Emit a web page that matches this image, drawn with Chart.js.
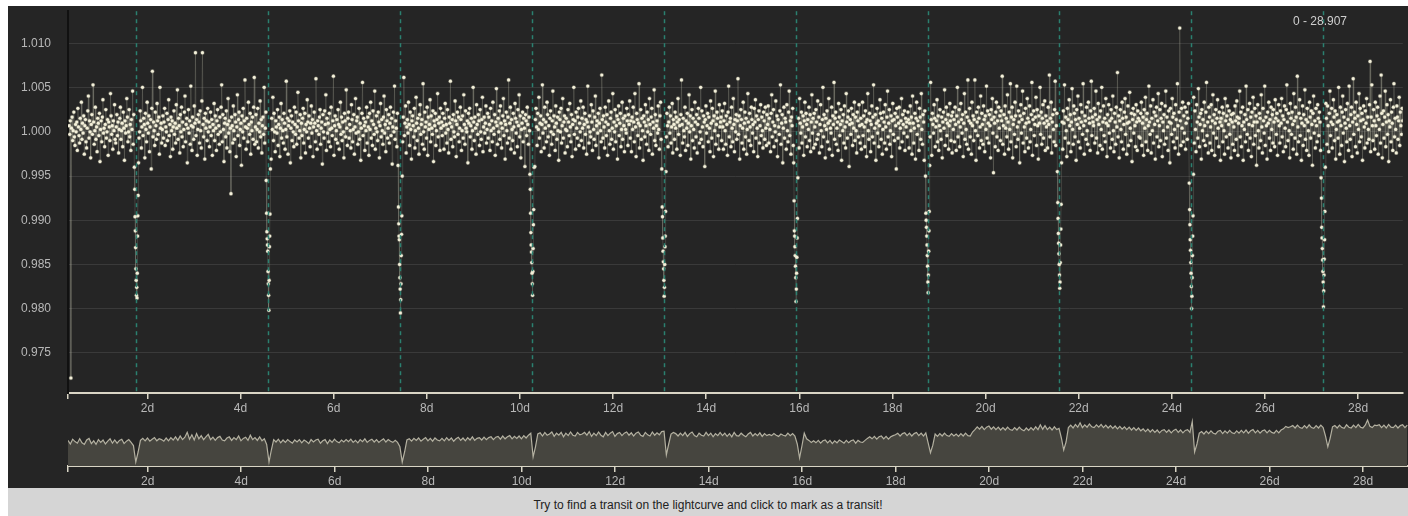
<!DOCTYPE html>
<html>
<head>
<meta charset="utf-8">
<script src="https://cdn.jsdelivr.net/npm/chart.js@4.4.1/dist/chart.umd.min.js"></script>
<style>
  html, body { margin: 0; padding: 0; background: #fff; width: 1408px; height: 516px; overflow: hidden;
    font-family: "Liberation Sans", Helvetica, Arial, sans-serif; }
  #panel { position: absolute; left: 8px; top: 6px; width: 1400px; height: 482px; background: #252525; }
  #main { position: absolute; left: 8px; top: 6px; }
  #overview { position: absolute; left: 8px; top: 400px; }
  #range { position: absolute; left: 1293px; top: 14px; color: #cfcfcf; font-size: 12px; }
  #hint { position: absolute; left: 8px; top: 488px; width: 1400px; height: 28px; background: #d5d5d5;
    color: #222; font-size: 12px; text-align: center; line-height: 34px; }
</style>
</head>
<body>
<div id="panel"></div>
<canvas id="main" width="1400" height="414"></canvas>
<canvas id="overview" width="1400" height="88"></canvas>
<div id="range"></div>
<div id="hint">Try to find a transit on the lightcurve and click to mark as a transit!</div>
<script>
// time range shown (days)
const xStart = 0.295;
const xEnd = 28.96;
const rangeLabel = "0 - 28.907";
const xTicks = [2, 4, 6, 8, 10, 12, 14, 16, 18, 20, 22, 24, 26, 28];
const yTicks = [0.975, 0.980, 0.985, 0.990, 0.995, 1.000, 1.005, 1.010];

// main lightcurve, flux offsets in units of 1.4e-4, one row per day (80 samples)
const startDay = 0.32;
const cadence = 0.0125;
const baselineUnit = 1.4e-4;
const baselineFlux = [
  5, -2, 9, -199, 3, 12, -7, 1, 16, -4, -11, 6, 0, 8, -15, 19, 4, -3, -9, 11, 2, 24, -6, 7, -1, 13, -18, 5, 10, -8, -13, 3, 17, 29, -5, 9, 0, -21, 6, 14, -2, 38, 8, -10, 1, 20, -6, 4, -16, 11, 7, -3, 15, -24, 2, 9, -8, 12, 26, -1, 3, -12, 6, 18, -5, 0, 10, -19, 8, 4, -7, 31, 13, -2, 5, -14, 9, 1, 22, -6,
  -9, 4, 14, -3, 8, -17, 2, 11, 20, -6, 1, 7, -12, 16, 3, -23, 9, -1, 5, 27, 12, -8, 0, 18, -4, 6, -15, 10, 2, 33, -10, 14, 5, -2, 21, -7, 8, -19, 3, 12, -5, 0, 17, 9, -13, 4, 36, -3, 11, 6, -21, 15, 2, -8, 24, 7, -1, 13, -16, 4, 10, -30, 19, 49, -4, 8, 1, -11, 16, 5, -6, 23, 9, -2, 12, -18, 36, 3, 7, -9,
  2, 13, -5, 8, 19, -11, 4, 0, 15, -7, 10, 26, -3, 6, -20, 12, 1, 9, -14, 4, 17, -2, 7, -9, 22, 3, 34, -6, 11, 5, -17, 14, 0, 20, -4, 8, -12, 2, 16, 29, -8, 6, 11, -25, 3, 18, -1, 9, -10, 37, 5, -15, 12, 4, -6, 21, 7, 64, -3, 10, -19, 2, 14, 8, -9, 17, 1, -13, 25, 64, 6, -4, 11, -22, 15, 3, 9, -7, 19, 0,
  8, -12, 4, 16, -3, 10, -19, 6, 1, 23, -7, 13, 3, -15, 9, 18, -2, 5, -10, 12, 0, 20, 38, -8, 14, 2, -24, 7, 11, -4, 17, -13, 6, 27, -1, 9, -16, 3, -50, 12, 5, -9, 21, 1, -6, 14, 8, -20, 4, 30, -3, 10, 16, -11, 2, 7, -27, 13, 0, 19, -5, 9, 42, 4, -14, 11, 3, -8, 24, 6, -2, 15, -18, 8, 1, 12, -6, 20, 44, -10,
  4, 14, -8, 2, 19, -13, 7, 0, 25, -4, 10, -17, 5, 12, -2, 36, -9, 3, 16, -6, 21, 1, -12, 8, 13, -3, 6, -22, 11, 2, 28, -7, 15, 0, -16, 9, 4, -1, 18, -11, 6, 12, -20, 3, 23, -5, 10, 1, -9, 15, 7, -14, 2, 41, -4, 11, -18, 5, 9, 17, -25, 3, 13, -7, 8, 0, -12, 20, 6, -2, 16, -10, 4, 32, 9, -5, 1, 14, -21, 7,
  -3, 11, 19, -9, 2, 15, -17, 6, 0, 26, 8, -5, 13, 3, -12, 7, 21, -1, 10, -20, 4, 16, 7, -8, 43, 1, -14, 9, 5, -2, 12, 18, -10, 3, 8, -26, 14, 0, -5, 17, 6, 30, -15, 11, -1, 7, -8, 15, 2, -12, 20, 3, -3, 9, 45, -19, 5, 13, -6, 1, 10, -9, 18, 6, -14, 4, 24, -2, 12, -7, 8, 0, -21, 15, 9, -4, 34, 3, -11, 11,
  16, -5, 6, 1, -13, 22, 10, -8, 2, 14, -18, 4, 27, -1, 9, 12, -10, 0, 19, -6, 7, -23, 3, 15, 40, -3, 11, 5, -15, 8, 1, 20, -9, 12, 4, -19, 15, 2, 24, -5, 9, -11, 17, 6, -2, 33, -14, 3, 13, 0, -7, 16, 8, -21, 5, 23, -4, 10, 1, -10, 12, 29, -1, 6, -16, 18, 9, -5, 3, 14, -9, 7, 20, -3, 11, -26, 4, 16, 0, 37,
  -6, 9, 3, -12, 15, 1, -5, 12, -15, 8, 0, 18, 6, -8, 12, 44, -3, 7, 21, -17, 4, 10, -1, 24, 6, -11, 16, 2, -22, 9, 13, 5, -4, 19, -13, 1, 28, 7, -7, 11, 3, -18, 14, 22, -2, 6, 10, -10, 39, 0, -14, 16, 4, 8, -5, 20, -19, 12, 2, 6, 26, -8, 13, 3, -2, 17, -24, 9, 5, 15, -11, 1, 10, 31, -4, 7, 12, -15, 19, 3,
  8, -3, 15, 5, -14, 11, 23, -1, 6, -9, 18, 2, -17, 12, 7, 41, -6, 4, 10, -12, 14, 0, -4, 25, 9, -20, 6, 16, -2, 12, -8, 3, 20, 10, -15, 1, 13, -5, 30, 6, -10, 17, 3, 0, 9, -25, 15, 7, 19, -4, 5, 11, -14, 1, 36, 8, -7, 12, 3, -18, 22, 6, -2, 14, 9, -11, 18, 0, -6, 10, 28, -16, 4, 12, -1, 7, 21, -9, 2, 15,
  -5, 12, 6, -15, 19, 1, 9, -8, 24, 3, -2, 14, -19, 8, 35, 5, -10, 11, 0, 17, -6, 21, 7, -13, 3, 13, 27, -3, 9, -22, 6, 16, 1, -9, 12, 42, -5, 7, 20, -14, 10, 2, -7, 15, 4, -17, 23, 11, -1, 8, -12, 18, 5, 30, -4, 13, -21, 2, 7, 16, -8, 11, 3, -28, 14, 9, -3, 20, 6, -10, 12, 1, 22, -6, 8, -32, 14, 3, -8, 17,
  -28, 10, 19, 4, -11, 15, 2, 28, -5, 7, 13, -16, 6, 38, -1, 10, -13, 20, 3, 8, -8, 24, 14, -4, 5, -19, 11, 17, 0, -10, 9, 33, -2, 13, 4, -15, 21, 7, -6, 12, 1, -23, 16, 10, 0, 19, -9, 5, 27, -5, 8, 13, -17, 2, 11, 1, -12, 18, 8, -3, 23, 4, -8, 14, -20, 6, 10, 36, -2, 9, -14, 16, 3, -5, 12, 19, -11, 7, 0, 25,
  -7, 11, 3, 20, -13, 6, 15, -2, 10, -18, 8, 37, 4, -9, 13, 0, -4, 22, 8, -15, 17, 2, -6, 12, 29, -11, 5, 9, -1, 15, -21, 7, 19, 1, -8, 46, 10, -5, 13, 4, -13, 20, 8, -3, 14, -19, 6, 25, 1, -10, 11, 16, -6, 3, 31, -14, 8, 0, 18, -8, 5, 13, -22, 10, 21, -3, 7, 15, -12, 2, 24, -6, 11, 5, -16, 13, 2, -1, 19, 9,
  -11, 14, 6, 25, -5, 9, -16, 12, 2, 20, 8, -8, 31, 4, -20, 15, 10, -3, 7, 39, -13, 5, 18, -6, 11, 1, -23, 13, 8, -4, 22, 5, -10, 16, 0, 10, -15, 27, 6, -2, 12, 19, -18, 8, 3, 34, -7, 14, -11, 5, 9, -1, 21, 2, -14, 13, 24, -6, 11, -8, 17, 1, 11, -20, 38, 7, -4, 15, 5, -12, 8, 20, -1, 13, -9, 4, 23, -17, 10, 6,
  -6, 16, 3, 12, -14, 8, 27, -2, 10, 5, -19, 14, 42, 6, -9, 11, 1, -4, 20, -15, 9, 3, 15, -11, 7, 30, 0, 13, -22, 5, 18, -7, 11, 2, -13, 24, 8, -4, 14, -17, 6, 19, 11, -9, 0, 36, -6, 17, 4, -12, 13, 8, -28, 10, 21, -1, 5, 15, -8, 12, 3, -16, 25, 7, -5, 19, 9, -20, 13, 1, 33, -10, 6, 16, 11, -3, -14, 22, 4, 8,
  12, -7, 17, 4, -14, 9, 23, 1, -10, 13, 6, -19, 16, 37, -4, 8, 11, -12, 20, 3, -8, 27, 6, -16, 10, 0, 14, -6, 9, 43, -2, 13, -22, 5, 18, 10, -9, 3, 24, -14, 7, 16, -4, 11, -18, 2, 31, 8, -7, 15, 4, -11, 20, 10, -1, 6, -16, 19, 8, 26, -5, 13, 3, -20, 10, 17, -9, 5, 22, -3, 12, 1, -13, 16, 9, -6, 20, 3, -11, 14,
  6, 21, -9, 11, 2, -16, 15, 30, -4, 8, 18, -12, 5, 0, 25, -7, 13, -20, 10, 4, -2, 17, 38, -10, 7, 14, -25, 3, 20, -5, 11, 8, -14, 22, 1, -8, 16, 33, -3, 9, -18, 12, 5, 19, -11, 5, -30, -22, 9, 14, -6, 21, 3, 11, -13, 27, 7, -1, 16, -9, 4, 13, -19, 9, 24, -4, 15, 6, -12, 10, 2, 20, -7, 14, -16, 8, 30, -1, 11, -13,
  15, 4, -10, 18, 8, -6, 25, -2, 12, -17, 6, 22, 1, -12, 10, 36, -4, 14, 5, -21, 11, 2, 17, -8, 7, 27, -14, 9, 3, -1, 20, -19, 13, 6, 40, -6, 11, 16, -10, 3, 8, -15, 23, 12, -3, 6, 18, -23, 9, 1, 14, -9, 21, 4, -13, 31, 8, -5, 12, 17, -28, 6, 10, -2, 19, 7, -11, 14, 3, 24, -7, 12, 1, -17, 16, 9, -4, 22, 5, -9,
  11, -14, 6, 24, -3, 13, 4, -12, 17, 8, -20, 10, 31, 1, -6, 15, 9, -16, 6, 21, -4, 12, 38, -9, 3, 14, -23, 7, 19, -1, 9, -12, 5, 26, 15, -6, 11, -18, 2, 16, 8, -9, 22, 4, -14, 12, 33, -4, 7, 18, -10, 1, 13, -20, 9, 23, -2, 10, -7, 15, 5, -30, 19, 12, -5, 7, 20, -13, 3, 9, 27, -8, 14, 6, -1, 17, -15, 11, 4, 8,
  -4, 16, 10, -13, 7, 21, 1, 12, -18, 29, 7, -9, 3, 15, -22, 11, 24, -2, 9, 5, -15, 19, 12, -6, 31, 2, -10, 14, 8, -23, 17, 4, 10, -7, 20, 2, -16, 13, 7, -4, 40, 10, -19, 15, 6, -1, 22, 11, -12, 4, 9, 26, -8, 13, -15, 5, 18, 1, -6, 12, -21, 8, 16, 3, 34, -11, 10, 20, -3, 7, 14, -14, 5, 23, 9, -7, 13, -17, 16, 2,
  10, -8, 20, 6, -15, 13, 36, -4, 8, 18, -12, 4, 23, 10, -1, 14, -20, 7, 31, -6, 16, 2, -10, 12, 42, -14, 9, 19, -4, 7, -18, 24, 5, 13, -7, 10, 42, 1, -23, 16, 8, -3, 20, 11, -13, 4, 29, -7, 15, 6, -10, 21, 10, -16, 13, 2, 37, -5, 17, 7, -9, 14, 5, -21, 18, 10, 27, -1, -33, 12, 7, -12, 16, 24, -4, 9, -15, 20, 3, 13,
  -7, 17, 9, 45, -10, 5, 14, -18, 21, 3, 11, -4, 30, 8, -14, 16, 2, 39, -8, 12, 20, -21, 6, 10, -2, 24, 13, -12, 37, 4, -6, 17, 8, -25, 13, 22, -1, 10, 33, -9, 15, 4, -16, 19, 7, -5, 27, 11, -13, 8, 21, -8, 2, 14, 40, -19, 10, 17, -3, 6, 12, 28, -11, 18, 5, -22, 13, 7, 36, -2, 16, -10, 11, 22, -5, 7, 25, -15, 13, 4,
  9, -13, 20, 6, 46, -4, 11, 24, -17, 8, 14, 2, -8, 18, 41, -11, 5, 15, -7, 10, -19, 22, 4, 13, -2, 30, 8, -14, 17, 7, 38, -5, 12, 1, -20, 19, 10, -9, 26, 5, 14, -16, 8, 35, 2, -10, 21, 15, -4, 10, -23, 18, 6, 29, -8, 11, 3, -13, 22, 8, 16, -2, 39, 5, -18, 13, 9, -6, 20, 1, -10, 24, 11, 7, -15, 17, 41, -3, 12, 8,
  5, 19, -9, 14, 33, -5, 10, -17, 23, 6, 12, -11, 17, 2, 36, -14, 8, 21, -3, 11, -8, 27, 7, -20, 14, 5, 22, -1, 9, -13, 18, 11, -6, 29, 1, -16, 15, 8, -10, 20, 4, 48, -4, 13, -21, 9, 18, 2, -8, 24, 11, -14, 6, 16, 27, -2, 12, -18, 7, 21, -11, 8, 32, 3, -7, 15, -24, 10, 19, -1, 14, 5, -12, 22, 8, -15, 17, 11, -4, 9,
  -5, 15, 24, -11, 7, 12, -19, 18, 3, 28, -8, 10, 15, -15, 5, 37, 8, -2, 21, -17, 11, 1, 26, -9, 16, 6, -22, 13, 20, -4, 9, 31, -12, 5, 18, -7, 11, 23, -20, 8, 1, 14, -10, 21, 33, -5, 12, 4, -15, 17, 8, -25, 19, 7, -2, 27, 12, -8, 15, 2, -13, 22, 10, -5, 39, 5, -18, 16, 84, 9, -11, 19, 3, 24, -8, 13, -1, 20, -14, 7,
  16, -6, 11, 23, -14, 5, 19, -2, 9, -21, 13, 7, 28, -9, 17, 2, -16, 22, 8, -5, 35, 12, -12, 6, 15, -22, 18, 1, 10, -7, 24, 5, -11, 16, 40, -3, 8, -17, 20, 12, -9, 4, 22, -15, 9, 30, -1, 14, -19, 7, 18, -5, 11, 26, 3, -12, 16, 8, -23, 11, 5, 20, -8, 15, 1, -18, 27, 9, -4, 13, 21, -13, 6, 17, -2, 10, -21, 14, 8, -10,
  15, 4, -15, 21, 9, -6, 25, 12, -19, 7, 11, 33, -4, 16, -12, 5, 20, -23, 8, 2, 14, -8, 37, 10, -2, 18, -15, 6, 23, -5, 12, -20, 16, 5, 28, -10, 8, 19, -3, 13, -27, 8, 22, 1, -13, 15, 11, -7, 30, 4, -17, 19, 9, -1, 37, -11, 12, 5, -22, 16, 7, 24, -5, 10, -15, 20, 2, 14, -9, 18, 8, -12, 26, 11, -2, 15, -19, 9, 22, 5,
  -9, 17, 7, 27, -4, 13, -16, 10, 21, 3, -12, 18, 38, 8, -7, 15, 1, -21, 23, 11, -2, 16, 6, -14, 31, 9, -5, 20, 12, -18, 45, 4, -8, 15, 26, -3, 11, -23, 7, 21, -11, 14, 5, 34, -6, 10, -15, 19, 8, 1, -19, 24, 12, -5, 17, 6, -27, 15, 29, -1, 9, -13, 19, 5, -8, 22, 11, -3, 16, 8, -15, 5, 18, -9, 13, 2, -20, 11, 7, 23,
  11, -10, 21, 5, -16, 15, 33, -3, 8, 19, -13, 6, 26, 12, -7, 17, -22, 2, 14, 8, -5, 36, 9, -18, 20, 5, -11, 16, 29, -1, 12, -24, 7, 18, 3, -8, 23, 10, -15, 37, 5, -6, 14, 20, -20, 8, 43, -2, 16, 11, -12, 24, 6, -17, 13, 2, 31, -8, 19, 9, -4, 15, -23, 10, 21, 4, -13, 17, 7, 27, -9, 12, 2, -6, 22, 57, -16, 12, 38, 5,
  -7, 18, 9, -14, 24, 5, -3, 13, 20, -18, 10, 2, 29, -9, 46, 15, -21, 6, 17, -5, 12, 33, -12, 8, 22, -2, 14, -24, 9, 4, 26, -8, 16, 7, -15, 20, 39, -4, 11, 2, -17, 21, 12, -6, 9, 28, -11, 16, 5, -2, 19, 9
];

// transits: mid times (days), sample offsets (days) and flux offsets (1e-4)
const transitTimes = [1.765, 4.597, 7.428, 10.26, 13.092, 15.924, 18.755, 21.587, 24.419, 27.25];
const transitOffsets = [-0.045, -0.036, -0.03, -0.024, -0.018, -0.012, -0.006, 0, 0.006, 0.012, 0.018, 0.024, 0.03, 0.036, 0.045];
const transitFlux = [
  [-40, -65, -96, -112, -131, -155, -168, -185, -176, -188, -160, -118, -95, -72, -35],
  [-55, -92, -113, -121, -128, -135, -158, -172, -185, -202, -168, -130, -118, -93, -42],
  [-38, -85, -104, -118, -122, -150, -165, -178, -205, -190, -172, -140, -116, -95, -50],
  [-48, -65, -92, -114, -128, -136, -148, -160, -172, -185, -158, -132, -105, -88, -40],
  [-42, -85, -96, -120, -135, -147, -155, -168, -186, -176, -150, -130, -118, -90, -45],
  [-35, -78, -112, -118, -130, -140, -152, -165, -192, -178, -160, -142, -120, -98, -52],
  [-50, -92, -100, -108, -118, -128, -140, -152, -170, -182, -162, -135, -112, -90, -38],
  [-45, -80, -98, -115, -126, -138, -150, -162, -177, -170, -148, -128, -110, -82, -35],
  [-58, -88, -105, -122, -134, -148, -160, -175, -200, -186, -165, -140, -118, -95, -48],
  [-52, -75, -108, -120, -132, -145, -158, -170, -198, -180, -162, -144, -122, -90, -40]
];

// overview strip (raw flux, 1e-4 units), one row per day
const overviewStart = 0.295;
const overviewCadence = 0.05;
const overviewFlux = [
  4, -5, 7, 1, -3, 8, -2, -6, 5, 9, -4, 3, -6, 6, -1, 5, -5, 2, 8, -3,
  5, -3, 4, 7, -4, 2, 6, -1, -9, -50, -25, 4, 9, 3, 10, 2, 7, 11, 3, 8,
  6, 2, 10, 3, 11, 5, 13, 4, 15, 6, 12, 24, 7, 18, 5, 21, 8, 16, 6, 13,
  19, 6, 12, 4, 11, 14, 5, 3, 10, 13, 4, 11, 6, 15, 3, 9, 12, 4, 17, 6,
  11, 4, 13, 3, 8, -6, -50, -20, 6, 0, 7, -2, 5, -1, 6, 1, -3, 5, 0, 6,
  -2, 5, 1, -4, 6, 0, 5, 7, -3, 3, 6, -4, 5, -1, 7, 1, -2, 5, 0, 6,
  1, 7, -1, 4, -2, 6, 1, 8, -1, 4, 7, 0, 6, -1, 4, 8, 0, 6, 2, -1,
  4, -1, -12, -50, -25, 5, 8, 2, 9, 4, 10, 2, 7, 11, 3, 9, 2, 10, 5, 3,
  9, 3, 11, 4, 10, 2, 8, 12, 4, 10, 3, 11, 5, 13, 4, 9, 11, 5, 12, 6,
  11, 13, 6, 12, 14, 7, 15, 8, 13, 16, 8, 14, 9, 15, 8, 16, 10, 17, 22, -37,
  -12, 20, 23, 15, 24, 17, 20, 25, 14, 22, 17, 24, 13, 22, 16, 25, 17, 15, 24, 18,
  20, 24, 17, 26, 14, 22, 16, 25, 17, 13, 24, 16, 22, 26, 14, 21, 24, 16, 22, 25,
  17, 23, 15, 22, 25, 17, 14, 24, 18, 15, 25, 17, 23, 18, 26, 27, -32, -5, 20, 24,
  21, 15, 22, 16, 24, 14, 21, 25, 16, 13, 22, 17, 15, 24, 16, 22, 13, 21, 16, 24,
  16, 22, 14, 21, 13, 24, 16, 15, 22, 17, 13, 20, 24, 15, 21, 16, 23, 14, 21, 16,
  19, 16, 21, 17, 14, 20, 17, 15, 22, 16, 21, 15, -5, -40, -10, 22, 8, 4, -1, 3,
  -2, 4, -3, 3, 5, -2, 4, -4, 3, -2, 5, 1, -3, 4, -2, 3, 5, -3, 4, 0,
  -1, 4, 9, 13, 8, 14, 7, 13, 15, 8, 14, 7, 13, 16, 18, 22, 15, 21, 23, 16,
  22, 15, 21, 24, 16, 22, 15, 23, -2, -27, -8, 20, 14, 21, 15, 22, 16, 14, 21, 15,
  20, 14, 21, 15, 22, 16, 15, 25, 31, 38, 32, 39, 31, 37, 40, 32, 38, 31, 37, 30,
  36, 30, 37, 31, 29, 36, 30, 37, 31, 28, 35, 29, 36, 30, 38, 31, 43, 32, 41, 31,
  37, 30, 38, 31, 34, 10, -20, 0, 36, 42, 35, 44, 37, 48, 36, 43, 37, 45, 38, 36,
  43, 37, 44, 36, 42, 35, 41, 34, 40, 33, 39, 32, 38, 31, 37, 30, 36, 29, 35, 28,
  33, 26, 32, 25, 31, 24, 30, 23, 29, 31, 24, 30, 23, 29, 32, 24, 30, 23, 29, 31,
  24, 51, -25, -5, 22, 26, 20, 27, 21, 28, 22, 20, 27, 29, 21, 28, 22, 29, 23, 21,
  28, 22, 29, 23, 30, 22, 28, 31, 23, 29, 22, 28, 30, 23, 29, 24, 22, 29, 23, 30,
  33, 39, 36, 38, 41, 35, 42, 36, 34, 41, 35, 43, 36, 34, 41, 35, 42, 36, 15, -12,
  10, 38, 41, 35, 42, 36, 34, 43, 37, 35, 42, 36, 44, 37, 35, 42, 55, 39, 36, 42,
  41, 43, 36, 42, 35, 44, 37, 36, 42, 35, 41, 43, 36, 42
];

const fontFamily = '"Liberation Sans", Helvetica, Arial, sans-serif';
Chart.defaults.font.family = fontFamily;
document.getElementById("range").textContent = rangeLabel;

// merge baseline + transit samples into one time-ordered series
const points = [];
baselineFlux.forEach((v, i) => {
  const t = startDay + i * cadence;
  if (transitTimes.some(T => Math.abs(t - T) < 0.05)) return; // gap where the dip samples go
  points.push({x: t, y: 1 + v * baselineUnit});
});
transitTimes.forEach((T, k) => {
  transitOffsets.forEach((o, j) => points.push({x: T + o, y: 1 + transitFlux[k][j] / 1e4}));
});
points.sort((a, b) => a.x - b.x);

const overviewPoints = overviewFlux.map((v, i) => ({x: overviewStart + i * overviewCadence, y: 1 + v / 1e4}));

const axisColor = "#d9d5c5";
const labelColor = "#b8b8b8";

const transitMarks = {
  id: "transitMarks",
  afterDatasetsDraw(chart) {
    const {ctx, chartArea, scales} = chart;
    ctx.save();
    ctx.strokeStyle = "#2b8070";
    ctx.lineWidth = 1.5;
    ctx.setLineDash([4, 4]);
    transitTimes.forEach(T => {
      const x = Math.round(scales.x.getPixelForValue(T)) + 0.5;
      ctx.beginPath();
      ctx.moveTo(x, chartArea.top);
      ctx.lineTo(x, chartArea.bottom);
      ctx.stroke();
    });
    ctx.restore();
  }
};

function xAxis(height) {
  return {
    type: "linear",
    min: xStart,
    max: xEnd,
    afterBuildTicks: s => { s.ticks = [{value: xStart}].concat(xTicks.map(v => ({value: v}))); },
    afterFit: s => { s.height = height; s.paddingLeft = 0; s.paddingRight = 0; },
    ticks: {
      color: labelColor, font: {size: 12}, padding: 2, maxRotation: 0, autoSkip: false,
      callback: v => v === xStart ? "" : v + "d"
    },
    grid: {drawOnChartArea: false, drawTicks: true, tickLength: 6, color: axisColor, lineWidth: 1.5},
    border: {color: axisColor, width: 2}
  };
}

new Chart(document.getElementById("main"), {
  type: "line",
  data: {
    datasets: [{
      data: points,
      borderColor: "rgba(190, 188, 172, 0.2)",
      borderWidth: 1,
      tension: 0,
      pointRadius: 1.6,
      pointBackgroundColor: "#f4f1dc",
      pointBorderColor: "rgba(240, 236, 205, 0.3)",
      pointBorderWidth: 1.2
    }]
  },
  options: {
    responsive: false,
    animation: false,
    parsing: false,
    events: [],
    layout: {padding: 0},
    plugins: {legend: {display: false}, tooltip: {enabled: false}},
    scales: {
      x: xAxis(27),
      y: {
        min: 0.97044,
        max: 1.01366,
        afterBuildTicks: s => { s.ticks = yTicks.map(v => ({value: v})); },
        afterFit: s => { s.width = 60; s.paddingTop = 0; s.paddingBottom = 0; },
        ticks: {color: labelColor, font: {size: 12}, padding: 17, callback: v => v.toFixed(3)},
        grid: {color: "#3a3a3a", lineWidth: 1, drawTicks: false},
        border: {color: "#111111", width: 2}
      }
    }
  },
  plugins: [transitMarks]
});

new Chart(document.getElementById("overview"), {
  type: "line",
  data: {
    datasets: [{
      data: overviewPoints,
      borderColor: "#b4b1a1",
      borderWidth: 1.2,
      pointRadius: 0,
      tension: 0,
      fill: "start",
      backgroundColor: "#46453f"
    }]
  },
  options: {
    responsive: false,
    animation: false,
    parsing: false,
    events: [],
    layout: {padding: {left: 60}},
    plugins: {legend: {display: false}, tooltip: {enabled: false}},
    scales: {
      x: xAxis(22),
      y: {display: false, min: 0.994, max: 1.0105}
    }
  }
});
</script>
</body>
</html>
